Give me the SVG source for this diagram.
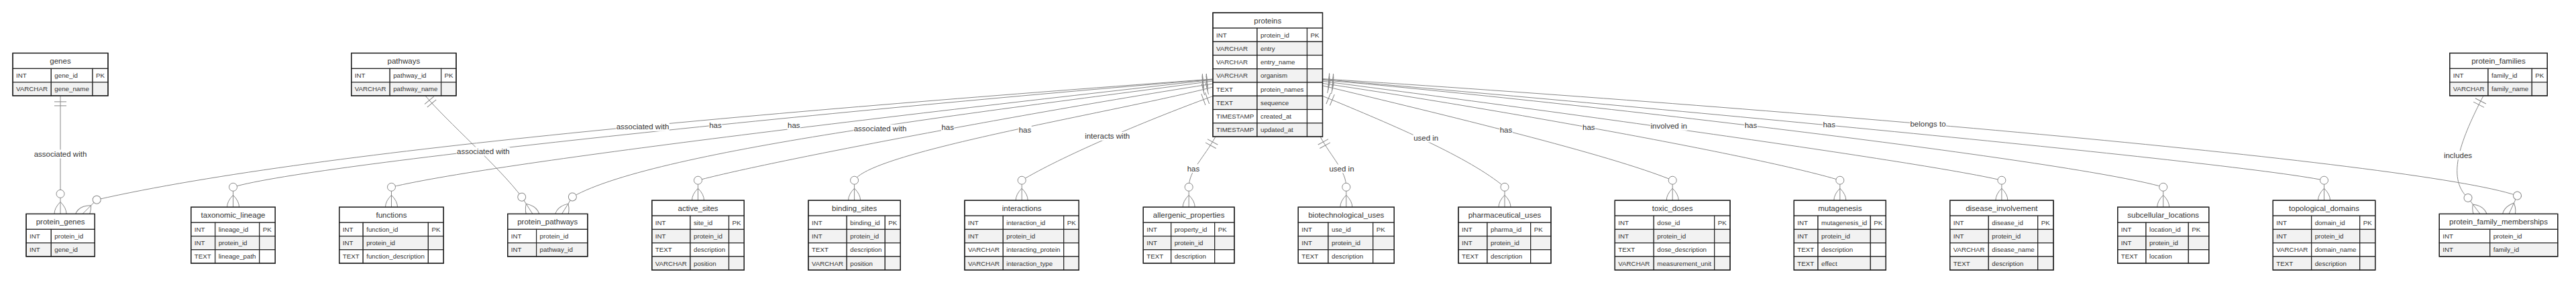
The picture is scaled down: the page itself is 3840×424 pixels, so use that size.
<svg xmlns="http://www.w3.org/2000/svg" width="3840" height="424" viewBox="0 0 3840 424">
<style>
.hd,.o{fill:#fff;stroke:#222;stroke-width:1.2}
.e{fill:#f2f2f2;stroke:#222;stroke-width:1.2}
.bd{fill:none;stroke:#222;stroke-width:1.4}
.t{font-family:"Liberation Sans",Arial,sans-serif;font-size:11.5px;fill:#333;text-anchor:middle;dominant-baseline:central}
.a{font-family:"Liberation Sans",Arial,sans-serif;font-size:9.75px;fill:#333;dominant-baseline:central}
.r{fill:none;stroke:#888;stroke-width:1;marker-start:url(#oneStart);marker-end:url(#manyEnd)}
.m{fill:none;stroke:#888;stroke-width:1}
.mc{fill:#fff;stroke:#888;stroke-width:1}
.lb{fill:#fff;stroke:none}
</style>
<defs>
<marker id="oneStart" markerUnits="userSpaceOnUse" refX="0" refY="9" markerWidth="18" markerHeight="18" orient="auto"><path class="m" d="M9,0 L9,18 M15,0 L15,18"/></marker>
<marker id="manyEnd" markerUnits="userSpaceOnUse" refX="39" refY="18" markerWidth="57" markerHeight="36" orient="auto"><circle class="mc" cx="9" cy="18" r="6"/><path class="m" d="M21,18 Q39,0 57,18 Q39,36 21,18"/></marker>
</defs>
<rect width="3840" height="424" fill="#fff"/>
<g id="connectors">
<path class="r" d="M90,142.9 L90,319.4"/>
<path class="r" d="M634,142.9 C665,180 745,250 777.7,294.1 L794,319.4"/>
<path class="r" d="M3702,142.9 C3670,205 3645,265 3679,295.4 L3697,319.4"/>
<path class="r" d="M1808,118 C1200,163 480,222 144.2,298.2 L123,319.4"/>
<path class="r" d="M1808,118.5 C1300,160 470,243 347.5,279.3 L347.5,309.3"/>
<path class="r" d="M1808,119 C1400,165 750,240 583.5,279.3 L583.5,309.3"/>
<path class="r" d="M1808,121 C1500,163 980,222 853.4,293.9 L837.5,319.4"/>
<path class="r" d="M1808,125 C1550,165 1150,240 1040.5,269.2 L1040.5,299.2"/>
<path class="r" d="M1808,130 C1660,168 1300,226 1273.6,269.2 L1273.6,299.2"/>
<path class="r" d="M1808,143.5 C1700,183 1580,235 1523.2,269.2 L1523.2,299.2"/>
<path class="r" d="M1812,204 C1795,235 1772.2,255 1772.2,279.3 L1772.2,309.3"/>
<path class="r" d="M1968,204 C1985,235 2006.8,255 2006.8,279.3 L2006.8,309.3"/>
<path class="r" d="M1972,143.5 C2080,188 2190,235 2243,279.3 L2243,309.3"/>
<path class="r" d="M1972,128 C2150,170.7 2400,230.7 2493.2,269.2 L2493.2,299.2"/>
<path class="r" d="M1972,124.5 C2200,158 2620,232 2742.8,269.2 L2742.8,299.2"/>
<path class="r" d="M1972,121.3 C2250,157.5 2860,240 2983.9,269.2 L2983.9,299.2"/>
<path class="r" d="M1972,119.5 C2300,148 3080,238 3224.7,279.3 L3224.7,309.3"/>
<path class="r" d="M1972,118.4 C2400,155 3320,240 3464.5,269.2 L3464.5,299.2"/>
<path class="r" d="M1972,117.7 C2600,158 3600,240 3752.5,292.2 L3740,319.4"/>
<g id="labels">
<rect class="lb" x="50.2" y="223.5" width="79.6" height="13"/><text class="t" x="90" y="230">associated with</text>
<rect class="lb" x="680.6" y="219.5" width="79.6" height="13"/><text class="t" x="720.4" y="226">associated with</text>
<rect class="lb" x="3642.4" y="225.2" width="43.2" height="13"/><text class="t" x="3664" y="231.7">includes</text>
<rect class="lb" x="918.2" y="182.8" width="79.6" height="13"/><text class="t" x="958" y="189.3">associated with</text>
<rect class="lb" x="1056.75" y="180.2" width="19.5" height="13"/><text class="t" x="1066.5" y="186.7">has</text>
<rect class="lb" x="1173.55" y="180.8" width="19.5" height="13"/><text class="t" x="1183.3" y="187.3">has</text>
<rect class="lb" x="1272.2" y="185.8" width="79.6" height="13"/><text class="t" x="1312" y="192.3">associated with</text>
<rect class="lb" x="1402.95" y="183.5" width="19.5" height="13"/><text class="t" x="1412.7" y="190">has</text>
<rect class="lb" x="1518.25" y="187.8" width="19.5" height="13"/><text class="t" x="1528" y="194.3">has</text>
<rect class="lb" x="1616.65" y="196.8" width="68.1" height="13"/><text class="t" x="1650.7" y="203.3">interacts with</text>
<rect class="lb" x="1769.25" y="245.2" width="19.5" height="13"/><text class="t" x="1779" y="251.7">has</text>
<rect class="lb" x="1980.95" y="245.5" width="38.1" height="13"/><text class="t" x="2000" y="252">used in</text>
<rect class="lb" x="2106.65" y="199.5" width="38.1" height="13"/><text class="t" x="2125.7" y="206">used in</text>
<rect class="lb" x="2235.25" y="187.5" width="19.5" height="13"/><text class="t" x="2245" y="194">has</text>
<rect class="lb" x="2358.55" y="183.5" width="19.5" height="13"/><text class="t" x="2368.3" y="190">has</text>
<rect class="lb" x="2460.05" y="181.8" width="55.3" height="13"/><text class="t" x="2487.7" y="188.3">involved in</text>
<rect class="lb" x="2600.25" y="180.8" width="19.5" height="13"/><text class="t" x="2610" y="187.3">has</text>
<rect class="lb" x="2716.95" y="179.5" width="19.5" height="13"/><text class="t" x="2726.7" y="186">has</text>
<rect class="lb" x="2846.95" y="178.8" width="54.1" height="13"/><text class="t" x="2874" y="185.3">belongs to</text>
</g>
</g>

<g id="genes" transform="translate(19,79.4)">
<rect class="hd" width="142" height="23"/><text class="t" x="71" y="11.5">genes</text>
<rect class="o" y="23" width="57.3" height="20.25"/><rect class="o" x="57.3" y="23" width="61.7" height="20.25"/><rect class="o" x="119" y="23" width="23" height="20.25"/>
<rect class="e" y="43.25" width="57.3" height="20.25"/><rect class="e" x="57.3" y="43.25" width="61.7" height="20.25"/><rect class="e" x="119" y="43.25" width="23" height="20.25"/>
<text class="a" x="5" y="33.1">INT</text><text class="a" x="62.3" y="33.1">gene_id</text><text class="a" x="124" y="33.1">PK</text>
<text class="a" x="5" y="53.4">VARCHAR</text><text class="a" x="62.3" y="53.4">gene_name</text>
<rect class="bd" width="142" height="63.5"/>
</g>

<g id="pathways" transform="translate(523.7,79.4)">
<rect class="hd" width="156.3" height="23"/><text class="t" x="78.15" y="11.5">pathways</text>
<rect class="o" y="23" width="57.5" height="20.25"/><rect class="o" x="57.5" y="23" width="76.4" height="20.25"/><rect class="o" x="133.9" y="23" width="22.4" height="20.25"/>
<rect class="e" y="43.25" width="57.5" height="20.25"/><rect class="e" x="57.5" y="43.25" width="76.4" height="20.25"/><rect class="e" x="133.9" y="43.25" width="22.4" height="20.25"/>
<text class="a" x="5" y="33.1">INT</text><text class="a" x="62.5" y="33.1">pathway_id</text><text class="a" x="138.9" y="33.1">PK</text>
<text class="a" x="5" y="53.4">VARCHAR</text><text class="a" x="62.5" y="53.4">pathway_name</text>
<rect class="bd" width="156.3" height="63.5"/>
</g>

<g id="proteins" transform="translate(1808,19)">
<rect class="hd" width="163.5" height="23"/><text class="t" x="81.75" y="11.5">proteins</text>
<rect class="o" y="23" width="66" height="20.25"/><rect class="o" x="66" y="23" width="74.5" height="20.25"/><rect class="o" x="140.5" y="23" width="23" height="20.25"/>
<rect class="e" y="43.25" width="66" height="20.25"/><rect class="e" x="66" y="43.25" width="74.5" height="20.25"/><rect class="e" x="140.5" y="43.25" width="23" height="20.25"/>
<rect class="o" y="63.5" width="66" height="20.25"/><rect class="o" x="66" y="63.5" width="74.5" height="20.25"/><rect class="o" x="140.5" y="63.5" width="23" height="20.25"/>
<rect class="e" y="83.75" width="66" height="20.25"/><rect class="e" x="66" y="83.75" width="74.5" height="20.25"/><rect class="e" x="140.5" y="83.75" width="23" height="20.25"/>
<rect class="o" y="104" width="66" height="20.25"/><rect class="o" x="66" y="104" width="74.5" height="20.25"/><rect class="o" x="140.5" y="104" width="23" height="20.25"/>
<rect class="e" y="124.25" width="66" height="20.25"/><rect class="e" x="66" y="124.25" width="74.5" height="20.25"/><rect class="e" x="140.5" y="124.25" width="23" height="20.25"/>
<rect class="o" y="144.5" width="66" height="20.25"/><rect class="o" x="66" y="144.5" width="74.5" height="20.25"/><rect class="o" x="140.5" y="144.5" width="23" height="20.25"/>
<rect class="e" y="164.75" width="66" height="20.25"/><rect class="e" x="66" y="164.75" width="74.5" height="20.25"/><rect class="e" x="140.5" y="164.75" width="23" height="20.25"/>
<text class="a" x="5" y="33.1">INT</text><text class="a" x="71" y="33.1">protein_id</text><text class="a" x="145.5" y="33.1">PK</text>
<text class="a" x="5" y="53.4">VARCHAR</text><text class="a" x="71" y="53.4">entry</text>
<text class="a" x="5" y="73.6">VARCHAR</text><text class="a" x="71" y="73.6">entry_name</text>
<text class="a" x="5" y="93.9">VARCHAR</text><text class="a" x="71" y="93.9">organism</text>
<text class="a" x="5" y="114.1">TEXT</text><text class="a" x="71" y="114.1">protein_names</text>
<text class="a" x="5" y="134.4">TEXT</text><text class="a" x="71" y="134.4">sequence</text>
<text class="a" x="5" y="154.6">TIMESTAMP</text><text class="a" x="71" y="154.6">created_at</text>
<text class="a" x="5" y="174.9">TIMESTAMP</text><text class="a" x="71" y="174.9">updated_at</text>
<rect class="bd" width="163.5" height="185"/>
</g>

<g id="protein_families" transform="translate(3651.7,79.4)">
<rect class="hd" width="145.6" height="23"/><text class="t" x="72.8" y="11.5">protein_families</text>
<rect class="o" y="23" width="57.3" height="20.25"/><rect class="o" x="57.3" y="23" width="65.3" height="20.25"/><rect class="o" x="122.6" y="23" width="23" height="20.25"/>
<rect class="e" y="43.25" width="57.3" height="20.25"/><rect class="e" x="57.3" y="43.25" width="65.3" height="20.25"/><rect class="e" x="122.6" y="43.25" width="23" height="20.25"/>
<text class="a" x="5" y="33.1">INT</text><text class="a" x="62.3" y="33.1">family_id</text><text class="a" x="127.6" y="33.1">PK</text>
<text class="a" x="5" y="53.4">VARCHAR</text><text class="a" x="62.3" y="53.4">family_name</text>
<rect class="bd" width="145.6" height="63.5"/>
</g>

<g id="protein_genes" transform="translate(39,319.4)">
<rect class="hd" width="102.3" height="23"/><text class="t" x="51.15" y="11.5">protein_genes</text>
<rect class="o" y="23" width="37.3" height="20.25"/><rect class="o" x="37.3" y="23" width="65" height="20.25"/>
<rect class="e" y="43.25" width="37.3" height="20.25"/><rect class="e" x="37.3" y="43.25" width="65" height="20.25"/>
<text class="a" x="5" y="33.1">INT</text><text class="a" x="42.3" y="33.1">protein_id</text>
<text class="a" x="5" y="53.4">INT</text><text class="a" x="42.3" y="53.4">gene_id</text>
<rect class="bd" width="102.3" height="63.5"/>
</g>

<g id="taxonomic_lineage" transform="translate(284.7,309.3)">
<rect class="hd" width="125.6" height="23"/><text class="t" x="62.8" y="11.5">taxonomic_lineage</text>
<rect class="o" y="23" width="36" height="20.25"/><rect class="o" x="36" y="23" width="66" height="20.25"/><rect class="o" x="102" y="23" width="23.6" height="20.25"/>
<rect class="e" y="43.25" width="36" height="20.25"/><rect class="e" x="36" y="43.25" width="66" height="20.25"/><rect class="e" x="102" y="43.25" width="23.6" height="20.25"/>
<rect class="o" y="63.5" width="36" height="20.25"/><rect class="o" x="36" y="63.5" width="66" height="20.25"/><rect class="o" x="102" y="63.5" width="23.6" height="20.25"/>
<text class="a" x="5" y="33.1">INT</text><text class="a" x="41" y="33.1">lineage_id</text><text class="a" x="107" y="33.1">PK</text>
<text class="a" x="5" y="53.4">INT</text><text class="a" x="41" y="53.4">protein_id</text>
<text class="a" x="5" y="73.6">TEXT</text><text class="a" x="41" y="73.6">lineage_path</text>
<rect class="bd" width="125.6" height="83.75"/>
</g>

<g id="functions" transform="translate(505.7,309.3)">
<rect class="hd" width="155.5" height="23"/><text class="t" x="77.75" y="11.5">functions</text>
<rect class="o" y="23" width="35.5" height="20.25"/><rect class="o" x="35.5" y="23" width="97.2" height="20.25"/><rect class="o" x="132.7" y="23" width="22.8" height="20.25"/>
<rect class="e" y="43.25" width="35.5" height="20.25"/><rect class="e" x="35.5" y="43.25" width="97.2" height="20.25"/><rect class="e" x="132.7" y="43.25" width="22.8" height="20.25"/>
<rect class="o" y="63.5" width="35.5" height="20.25"/><rect class="o" x="35.5" y="63.5" width="97.2" height="20.25"/><rect class="o" x="132.7" y="63.5" width="22.8" height="20.25"/>
<text class="a" x="5" y="33.1">INT</text><text class="a" x="40.5" y="33.1">function_id</text><text class="a" x="137.7" y="33.1">PK</text>
<text class="a" x="5" y="53.4">INT</text><text class="a" x="40.5" y="53.4">protein_id</text>
<text class="a" x="5" y="73.6">TEXT</text><text class="a" x="40.5" y="73.6">function_description</text>
<rect class="bd" width="155.5" height="83.75"/>
</g>

<g id="protein_pathways" transform="translate(756.7,319.4)">
<rect class="hd" width="119.2" height="23"/><text class="t" x="59.6" y="11.5">protein_pathways</text>
<rect class="o" y="23" width="42.9" height="20.25"/><rect class="o" x="42.9" y="23" width="76.3" height="20.25"/>
<rect class="e" y="43.25" width="42.9" height="20.25"/><rect class="e" x="42.9" y="43.25" width="76.3" height="20.25"/>
<text class="a" x="5" y="33.1">INT</text><text class="a" x="47.9" y="33.1">protein_id</text>
<text class="a" x="5" y="53.4">INT</text><text class="a" x="47.9" y="53.4">pathway_id</text>
<rect class="bd" width="119.2" height="63.5"/>
</g>

<g id="active_sites" transform="translate(971.8,299.2)">
<rect class="hd" width="137.5" height="23"/><text class="t" x="68.75" y="11.5">active_sites</text>
<rect class="o" y="23" width="57.2" height="20.25"/><rect class="o" x="57.2" y="23" width="57.5" height="20.25"/><rect class="o" x="114.7" y="23" width="22.8" height="20.25"/>
<rect class="e" y="43.25" width="57.2" height="20.25"/><rect class="e" x="57.2" y="43.25" width="57.5" height="20.25"/><rect class="e" x="114.7" y="43.25" width="22.8" height="20.25"/>
<rect class="o" y="63.5" width="57.2" height="20.25"/><rect class="o" x="57.2" y="63.5" width="57.5" height="20.25"/><rect class="o" x="114.7" y="63.5" width="22.8" height="20.25"/>
<rect class="e" y="83.75" width="57.2" height="20.25"/><rect class="e" x="57.2" y="83.75" width="57.5" height="20.25"/><rect class="e" x="114.7" y="83.75" width="22.8" height="20.25"/>
<text class="a" x="5" y="33.1">INT</text><text class="a" x="62.2" y="33.1">site_id</text><text class="a" x="119.7" y="33.1">PK</text>
<text class="a" x="5" y="53.4">INT</text><text class="a" x="62.2" y="53.4">protein_id</text>
<text class="a" x="5" y="73.6">TEXT</text><text class="a" x="62.2" y="73.6">description</text>
<text class="a" x="5" y="93.9">VARCHAR</text><text class="a" x="62.2" y="93.9">position</text>
<rect class="bd" width="137.5" height="104"/>
</g>

<g id="binding_sites" transform="translate(1205,299.2)">
<rect class="hd" width="137.3" height="23"/><text class="t" x="68.65" y="11.5">binding_sites</text>
<rect class="o" y="23" width="57.3" height="20.25"/><rect class="o" x="57.3" y="23" width="57" height="20.25"/><rect class="o" x="114.3" y="23" width="23" height="20.25"/>
<rect class="e" y="43.25" width="57.3" height="20.25"/><rect class="e" x="57.3" y="43.25" width="57" height="20.25"/><rect class="e" x="114.3" y="43.25" width="23" height="20.25"/>
<rect class="o" y="63.5" width="57.3" height="20.25"/><rect class="o" x="57.3" y="63.5" width="57" height="20.25"/><rect class="o" x="114.3" y="63.5" width="23" height="20.25"/>
<rect class="e" y="83.75" width="57.3" height="20.25"/><rect class="e" x="57.3" y="83.75" width="57" height="20.25"/><rect class="e" x="114.3" y="83.75" width="23" height="20.25"/>
<text class="a" x="5" y="33.1">INT</text><text class="a" x="62.3" y="33.1">binding_id</text><text class="a" x="119.3" y="33.1">PK</text>
<text class="a" x="5" y="53.4">INT</text><text class="a" x="62.3" y="53.4">protein_id</text>
<text class="a" x="5" y="73.6">TEXT</text><text class="a" x="62.3" y="73.6">description</text>
<text class="a" x="5" y="93.9">VARCHAR</text><text class="a" x="62.3" y="93.9">position</text>
<rect class="bd" width="137.3" height="104"/>
</g>

<g id="interactions" transform="translate(1438,299.2)">
<rect class="hd" width="170.3" height="23"/><text class="t" x="85.15" y="11.5">interactions</text>
<rect class="o" y="23" width="57.3" height="20.25"/><rect class="o" x="57.3" y="23" width="90.4" height="20.25"/><rect class="o" x="147.7" y="23" width="22.6" height="20.25"/>
<rect class="e" y="43.25" width="57.3" height="20.25"/><rect class="e" x="57.3" y="43.25" width="90.4" height="20.25"/><rect class="e" x="147.7" y="43.25" width="22.6" height="20.25"/>
<rect class="o" y="63.5" width="57.3" height="20.25"/><rect class="o" x="57.3" y="63.5" width="90.4" height="20.25"/><rect class="o" x="147.7" y="63.5" width="22.6" height="20.25"/>
<rect class="e" y="83.75" width="57.3" height="20.25"/><rect class="e" x="57.3" y="83.75" width="90.4" height="20.25"/><rect class="e" x="147.7" y="83.75" width="22.6" height="20.25"/>
<text class="a" x="5" y="33.1">INT</text><text class="a" x="62.3" y="33.1">interaction_id</text><text class="a" x="152.7" y="33.1">PK</text>
<text class="a" x="5" y="53.4">INT</text><text class="a" x="62.3" y="53.4">protein_id</text>
<text class="a" x="5" y="73.6">VARCHAR</text><text class="a" x="62.3" y="73.6">interacting_protein</text>
<text class="a" x="5" y="93.9">VARCHAR</text><text class="a" x="62.3" y="93.9">interaction_type</text>
<rect class="bd" width="170.3" height="104"/>
</g>

<g id="allergenic_properties" transform="translate(1704.3,309.3)">
<rect class="hd" width="135.7" height="23"/><text class="t" x="67.85" y="11.5">allergenic_properties</text>
<rect class="o" y="23" width="41.4" height="20.25"/><rect class="o" x="41.4" y="23" width="65" height="20.25"/><rect class="o" x="106.4" y="23" width="29.3" height="20.25"/>
<rect class="e" y="43.25" width="41.4" height="20.25"/><rect class="e" x="41.4" y="43.25" width="65" height="20.25"/><rect class="e" x="106.4" y="43.25" width="29.3" height="20.25"/>
<rect class="o" y="63.5" width="41.4" height="20.25"/><rect class="o" x="41.4" y="63.5" width="65" height="20.25"/><rect class="o" x="106.4" y="63.5" width="29.3" height="20.25"/>
<text class="a" x="5" y="33.1">INT</text><text class="a" x="46.4" y="33.1">property_id</text><text class="a" x="111.4" y="33.1">PK</text>
<text class="a" x="5" y="53.4">INT</text><text class="a" x="46.4" y="53.4">protein_id</text>
<text class="a" x="5" y="73.6">TEXT</text><text class="a" x="46.4" y="73.6">description</text>
<rect class="bd" width="135.7" height="83.75"/>
</g>

<g id="biotechnological_uses" transform="translate(1935.3,309.3)">
<rect class="hd" width="143" height="23"/><text class="t" x="71.5" y="11.5">biotechnological_uses</text>
<rect class="o" y="23" width="44.7" height="20.25"/><rect class="o" x="44.7" y="23" width="66.7" height="20.25"/><rect class="o" x="111.4" y="23" width="31.6" height="20.25"/>
<rect class="e" y="43.25" width="44.7" height="20.25"/><rect class="e" x="44.7" y="43.25" width="66.7" height="20.25"/><rect class="e" x="111.4" y="43.25" width="31.6" height="20.25"/>
<rect class="o" y="63.5" width="44.7" height="20.25"/><rect class="o" x="44.7" y="63.5" width="66.7" height="20.25"/><rect class="o" x="111.4" y="63.5" width="31.6" height="20.25"/>
<text class="a" x="5" y="33.1">INT</text><text class="a" x="49.7" y="33.1">use_id</text><text class="a" x="116.4" y="33.1">PK</text>
<text class="a" x="5" y="53.4">INT</text><text class="a" x="49.7" y="53.4">protein_id</text>
<text class="a" x="5" y="73.6">TEXT</text><text class="a" x="49.7" y="73.6">description</text>
<rect class="bd" width="143" height="83.75"/>
</g>

<g id="pharmaceutical_uses" transform="translate(2174,309.3)">
<rect class="hd" width="138" height="23"/><text class="t" x="69" y="11.5">pharmaceutical_uses</text>
<rect class="o" y="23" width="43" height="20.25"/><rect class="o" x="43" y="23" width="64.7" height="20.25"/><rect class="o" x="107.7" y="23" width="30.3" height="20.25"/>
<rect class="e" y="43.25" width="43" height="20.25"/><rect class="e" x="43" y="43.25" width="64.7" height="20.25"/><rect class="e" x="107.7" y="43.25" width="30.3" height="20.25"/>
<rect class="o" y="63.5" width="43" height="20.25"/><rect class="o" x="43" y="63.5" width="64.7" height="20.25"/><rect class="o" x="107.7" y="63.5" width="30.3" height="20.25"/>
<text class="a" x="5" y="33.1">INT</text><text class="a" x="48" y="33.1">pharma_id</text><text class="a" x="112.7" y="33.1">PK</text>
<text class="a" x="5" y="53.4">INT</text><text class="a" x="48" y="53.4">protein_id</text>
<text class="a" x="5" y="73.6">TEXT</text><text class="a" x="48" y="73.6">description</text>
<rect class="bd" width="138" height="83.75"/>
</g>

<g id="toxic_doses" transform="translate(2407.3,299.2)">
<rect class="hd" width="171.7" height="23"/><text class="t" x="85.85" y="11.5">toxic_doses</text>
<rect class="o" y="23" width="58" height="20.25"/><rect class="o" x="58" y="23" width="90.4" height="20.25"/><rect class="o" x="148.4" y="23" width="23.3" height="20.25"/>
<rect class="e" y="43.25" width="58" height="20.25"/><rect class="e" x="58" y="43.25" width="90.4" height="20.25"/><rect class="e" x="148.4" y="43.25" width="23.3" height="20.25"/>
<rect class="o" y="63.5" width="58" height="20.25"/><rect class="o" x="58" y="63.5" width="90.4" height="20.25"/><rect class="o" x="148.4" y="63.5" width="23.3" height="20.25"/>
<rect class="e" y="83.75" width="58" height="20.25"/><rect class="e" x="58" y="83.75" width="90.4" height="20.25"/><rect class="e" x="148.4" y="83.75" width="23.3" height="20.25"/>
<text class="a" x="5" y="33.1">INT</text><text class="a" x="63" y="33.1">dose_id</text><text class="a" x="153.4" y="33.1">PK</text>
<text class="a" x="5" y="53.4">INT</text><text class="a" x="63" y="53.4">protein_id</text>
<text class="a" x="5" y="73.6">TEXT</text><text class="a" x="63" y="73.6">dose_description</text>
<text class="a" x="5" y="93.9">VARCHAR</text><text class="a" x="63" y="93.9">measurement_unit</text>
<rect class="bd" width="171.7" height="104"/>
</g>

<g id="mutagenesis" transform="translate(2674.3,299.2)">
<rect class="hd" width="137" height="23"/><text class="t" x="68.5" y="11.5">mutagenesis</text>
<rect class="o" y="23" width="35.7" height="20.25"/><rect class="o" x="35.7" y="23" width="78.3" height="20.25"/><rect class="o" x="114" y="23" width="23" height="20.25"/>
<rect class="e" y="43.25" width="35.7" height="20.25"/><rect class="e" x="35.7" y="43.25" width="78.3" height="20.25"/><rect class="e" x="114" y="43.25" width="23" height="20.25"/>
<rect class="o" y="63.5" width="35.7" height="20.25"/><rect class="o" x="35.7" y="63.5" width="78.3" height="20.25"/><rect class="o" x="114" y="63.5" width="23" height="20.25"/>
<rect class="e" y="83.75" width="35.7" height="20.25"/><rect class="e" x="35.7" y="83.75" width="78.3" height="20.25"/><rect class="e" x="114" y="83.75" width="23" height="20.25"/>
<text class="a" x="5" y="33.1">INT</text><text class="a" x="40.7" y="33.1">mutagenesis_id</text><text class="a" x="119" y="33.1">PK</text>
<text class="a" x="5" y="53.4">INT</text><text class="a" x="40.7" y="53.4">protein_id</text>
<text class="a" x="5" y="73.6">TEXT</text><text class="a" x="40.7" y="73.6">description</text>
<text class="a" x="5" y="93.9">TEXT</text><text class="a" x="40.7" y="93.9">effect</text>
<rect class="bd" width="137" height="104"/>
</g>

<g id="disease_involvement" transform="translate(2906.7,299.2)">
<rect class="hd" width="154.3" height="23"/><text class="t" x="77.15" y="11.5">disease_involvement</text>
<rect class="o" y="23" width="57.6" height="20.25"/><rect class="o" x="57.6" y="23" width="73.4" height="20.25"/><rect class="o" x="131" y="23" width="23.3" height="20.25"/>
<rect class="e" y="43.25" width="57.6" height="20.25"/><rect class="e" x="57.6" y="43.25" width="73.4" height="20.25"/><rect class="e" x="131" y="43.25" width="23.3" height="20.25"/>
<rect class="o" y="63.5" width="57.6" height="20.25"/><rect class="o" x="57.6" y="63.5" width="73.4" height="20.25"/><rect class="o" x="131" y="63.5" width="23.3" height="20.25"/>
<rect class="e" y="83.75" width="57.6" height="20.25"/><rect class="e" x="57.6" y="83.75" width="73.4" height="20.25"/><rect class="e" x="131" y="83.75" width="23.3" height="20.25"/>
<text class="a" x="5" y="33.1">INT</text><text class="a" x="62.6" y="33.1">disease_id</text><text class="a" x="136" y="33.1">PK</text>
<text class="a" x="5" y="53.4">INT</text><text class="a" x="62.6" y="53.4">protein_id</text>
<text class="a" x="5" y="73.6">VARCHAR</text><text class="a" x="62.6" y="73.6">disease_name</text>
<text class="a" x="5" y="93.9">TEXT</text><text class="a" x="62.6" y="93.9">description</text>
<rect class="bd" width="154.3" height="104"/>
</g>

<g id="subcellular_locations" transform="translate(3156.7,309.3)">
<rect class="hd" width="136" height="23"/><text class="t" x="68" y="11.5">subcellular_locations</text>
<rect class="o" y="23" width="42.3" height="20.25"/><rect class="o" x="42.3" y="23" width="63.3" height="20.25"/><rect class="o" x="105.6" y="23" width="30.4" height="20.25"/>
<rect class="e" y="43.25" width="42.3" height="20.25"/><rect class="e" x="42.3" y="43.25" width="63.3" height="20.25"/><rect class="e" x="105.6" y="43.25" width="30.4" height="20.25"/>
<rect class="o" y="63.5" width="42.3" height="20.25"/><rect class="o" x="42.3" y="63.5" width="63.3" height="20.25"/><rect class="o" x="105.6" y="63.5" width="30.4" height="20.25"/>
<text class="a" x="5" y="33.1">INT</text><text class="a" x="47.3" y="33.1">location_id</text><text class="a" x="110.6" y="33.1">PK</text>
<text class="a" x="5" y="53.4">INT</text><text class="a" x="47.3" y="53.4">protein_id</text>
<text class="a" x="5" y="73.6">TEXT</text><text class="a" x="47.3" y="73.6">location</text>
<rect class="bd" width="136" height="83.75"/>
</g>

<g id="topological_domains" transform="translate(3388.3,299.2)">
<rect class="hd" width="152.4" height="23"/><text class="t" x="76.2" y="11.5">topological_domains</text>
<rect class="o" y="23" width="57.4" height="20.25"/><rect class="o" x="57.4" y="23" width="72" height="20.25"/><rect class="o" x="129.4" y="23" width="23" height="20.25"/>
<rect class="e" y="43.25" width="57.4" height="20.25"/><rect class="e" x="57.4" y="43.25" width="72" height="20.25"/><rect class="e" x="129.4" y="43.25" width="23" height="20.25"/>
<rect class="o" y="63.5" width="57.4" height="20.25"/><rect class="o" x="57.4" y="63.5" width="72" height="20.25"/><rect class="o" x="129.4" y="63.5" width="23" height="20.25"/>
<rect class="e" y="83.75" width="57.4" height="20.25"/><rect class="e" x="57.4" y="83.75" width="72" height="20.25"/><rect class="e" x="129.4" y="83.75" width="23" height="20.25"/>
<text class="a" x="5" y="33.1">INT</text><text class="a" x="62.4" y="33.1">domain_id</text><text class="a" x="134.4" y="33.1">PK</text>
<text class="a" x="5" y="53.4">INT</text><text class="a" x="62.4" y="53.4">protein_id</text>
<text class="a" x="5" y="73.6">VARCHAR</text><text class="a" x="62.4" y="73.6">domain_name</text>
<text class="a" x="5" y="93.9">TEXT</text><text class="a" x="62.4" y="93.9">description</text>
<rect class="bd" width="152.4" height="104"/>
</g>

<g id="protein_family_memberships" transform="translate(3636.3,319.4)">
<rect class="hd" width="176.4" height="23"/><text class="t" x="88.2" y="11.5">protein_family_memberships</text>
<rect class="o" y="23" width="75.4" height="20.25"/><rect class="o" x="75.4" y="23" width="101" height="20.25"/>
<rect class="e" y="43.25" width="75.4" height="20.25"/><rect class="e" x="75.4" y="43.25" width="101" height="20.25"/>
<text class="a" x="5" y="33.1">INT</text><text class="a" x="80.4" y="33.1">protein_id</text>
<text class="a" x="5" y="53.4">INT</text><text class="a" x="80.4" y="53.4">family_id</text>
<rect class="bd" width="176.4" height="63.5"/>
</g>
</svg>
